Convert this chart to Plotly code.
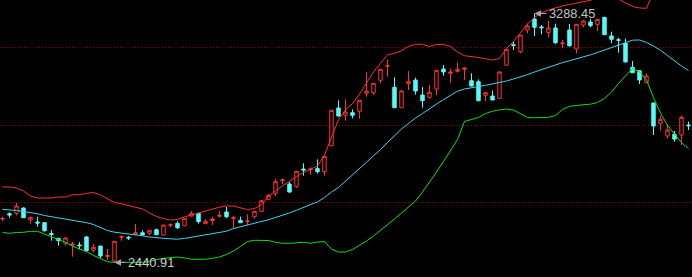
import plotly.graph_objects as go

# ---- data (index = trading day) ----
days = list(range(99))

opens = [2589.0, 2607.0, 2608.4, 2626.4, 2585.6, 2578.8, 2576.4, 2539.6, 2523.3, 2506.3,
         2500.5, 2500.5, 2527.7, 2482.5, 2497.1, 2461.4, 2446.0, 2527.0, 2526.7, 2536.9,
         2542.3, 2540.3, 2552.5, 2534.5, 2567.6, 2574.4, 2566.2, 2599.2, 2608.4, 2573.0,
         2583.9, 2598.2, 2612.8, 2590.0, 2584.6, 2579.8, 2596.8, 2615.2, 2656.0, 2676.5,
         2719.3, 2708.1, 2698.9, 2759.2, 2756.8, 2760.5, 2750.0, 2838.5, 2966.8, 2942.0,
         2950.8, 2955.6, 3016.9, 3018.9, 3061.1, 3108.8, 3037.3, 2967.8, 3049.5, 3062.1,
         3011.1, 3003.2, 3031.5, 3099.5, 3084.9, 3091.7, 3098.5, 3059.7, 3056.3, 3010.0,
         3007.6, 2999.8, 3112.2, 3182.3, 3158.4, 3232.3, 3269.7, 3242.5, 3223.1, 3239.1,
         3185.7, 3232.3, 3167.6, 3249.3, 3259.5, 3251.7, 3275.5, 3211.9, 3199.3, 3187.0,
         3105.3, 3093.7, 3052.9, 2983.8, 2914.7, 2871.5, 2877.3, 2874.9, 2908.9]
highs = [2597.5, 2611.8, 2644.4, 2628.1, 2596.4, 2596.8, 2578.8, 2551.5, 2524.3, 2528.7,
         2510.7, 2510.7, 2531.1, 2503.9, 2497.1, 2486.9, 2514.1, 2533.5, 2531.1, 2572.0,
         2550.5, 2551.5, 2556.3, 2569.0, 2574.4, 2581.2, 2592.4, 2616.2, 2609.4, 2589.0,
         2596.4, 2615.2, 2629.8, 2599.2, 2596.8, 2605.0, 2615.6, 2653.6, 2674.1, 2725.1,
         2727.5, 2714.9, 2752.4, 2778.6, 2765.0, 2792.2, 2803.4, 2960.0, 2993.0, 2996.4,
         2962.4, 2993.5, 3088.3, 3051.9, 3099.5, 3131.2, 3071.3, 3028.1, 3092.7, 3069.9,
         3038.3, 3045.1, 3095.6, 3113.2, 3100.6, 3122.3, 3105.3, 3084.9, 3064.5, 3019.4,
         3025.7, 3091.7, 3167.6, 3192.5, 3215.8, 3255.1, 3288.45, 3249.3, 3263.9, 3253.7,
         3198.3, 3252.7, 3252.7, 3266.3, 3269.7, 3269.7, 3276.0, 3226.5, 3206.1, 3202.7,
         3126.8, 3094.2, 3084.9, 2984.3, 2940.6, 2911.3, 2888.5, 2940.6, 2920.2]
lows = [2582.2, 2593.4, 2601.6, 2592.4, 2573.0, 2562.8, 2545.7, 2515.1, 2498.1, 2498.1,
        2460.7, 2485.9, 2477.7, 2475.7, 2456.3, 2449.4, 2440.91, 2515.1, 2517.5, 2536.0,
        2533.5, 2533.5, 2534.5, 2534.0, 2560.8, 2554.9, 2565.2, 2596.8, 2573.0, 2572.5,
        2568.6, 2593.4, 2591.4, 2557.4, 2576.0, 2568.6, 2590.0, 2612.8, 2653.6, 2667.3,
        2707.1, 2678.5, 2695.5, 2736.4, 2739.8, 2743.2, 2736.4, 2837.5, 2937.2, 2923.5,
        2931.8, 2930.4, 3005.3, 3011.1, 3050.9, 3073.3, 2967.0, 2966.8, 3028.1, 3012.1,
        2967.8, 2998.4, 3010.0, 3076.7, 3052.9, 3086.9, 3062.1, 3041.2, 2991.0, 2989.6,
        2993.5, 2999.3, 3111.7, 3164.2, 3152.9, 3221.1, 3211.9, 3217.6, 3207.4, 3184.6,
        3170.0, 3175.4, 3152.9, 3241.5, 3241.5, 3228.9, 3216.0, 3187.0, 3155.0, 3123.0,
        3086.5, 3048.5, 3052.4, 2874.9, 2889.5, 2863.6, 2852.1, 2840.8, 2891.9]
closes = [2590.7, 2602.6, 2633.2, 2593.4, 2594.8, 2575.4, 2549.1, 2536.2, 2515.1, 2524.3,
          2503.9, 2498.1, 2481.1, 2492.7, 2463.1, 2464.8, 2513.1, 2529.4, 2524.3, 2542.3,
          2534.5, 2550.5, 2535.5, 2568.6, 2569.6, 2559.4, 2591.4, 2608.4, 2579.8, 2581.2,
          2589.0, 2601.6, 2596.8, 2593.4, 2576.4, 2582.2, 2615.2, 2651.2, 2669.7, 2715.9,
          2721.7, 2680.9, 2751.4, 2755.8, 2759.2, 2750.0, 2802.4, 2959.0, 2939.6, 2953.2,
          2942.0, 2993.0, 3024.7, 3050.9, 3098.5, 3110.8, 2967.8, 3024.7, 3057.7, 3024.7,
          2991.6, 3020.3, 3095.1, 3089.3, 3089.3, 3098.5, 3102.9, 3041.7, 2991.6, 3018.9,
          2994.0, 3089.3, 3166.6, 3179.6, 3215.3, 3245.9, 3241.5, 3240.1, 3239.1, 3189.1,
          3188.0, 3178.8, 3251.7, 3262.9, 3246.9, 3268.7, 3216.3, 3200.6, 3197.2, 3123.4,
          3086.9, 3062.1, 3075.7, 2905.5, 2928.3, 2891.9, 2861.3, 2935.1, 2906.5]

boll_upper = [2697.9, 2697.9, 2694.5, 2684.3, 2667.3, 2660.4, 2660.4, 2660.4, 2663.8, 2663.8,
              2671.7, 2671.7, 2676.5, 2679.2, 2670.7, 2658.7, 2645.1, 2641.0, 2634.9, 2629.8,
              2623.0, 2609.4, 2597.5, 2590.0, 2585.6, 2587.3, 2596.4, 2602.6, 2610.1, 2617.2,
              2623.0, 2629.1, 2633.2, 2633.2, 2627.1, 2621.0, 2624.7, 2638.3, 2665.6, 2685.3,
              2701.3, 2718.3, 2733.6, 2747.3, 2759.2, 2769.4, 2806.8, 2868.1, 2926.9, 2961.0,
              2981.4, 3014.5, 3053.6, 3089.3, 3118.9, 3147.9, 3152.6, 3161.8, 3176.8, 3183.6,
              3183.6, 3176.1, 3182.9, 3183.6, 3176.1, 3157.4, 3144.8, 3142.8, 3138.7, 3134.6,
              3130.2, 3135.3, 3169.3, 3193.1, 3222.1, 3252.7, 3274.8, 3291.2, 3300.4, 3308.2,
              3314.0, 3319.1, 3323.2, 3327.6, 3333.4, 3341.2, 3344.6, 3344.6, 3337.8, 3324.2,
              3312.3, 3307.2, 3306.2, 3361.6, 3382.1, 3382.1, 3382.1, 3375.2, 3361.6]
boll_mid = [2622.0, 2621.0, 2617.9, 2614.5, 2611.1, 2606.7, 2600.9, 2596.8, 2594.1, 2590.0,
            2585.9, 2581.2, 2576.4, 2570.3, 2560.1, 2549.8, 2544.0, 2541.3, 2536.5, 2534.5,
            2531.8, 2527.7, 2524.3, 2523.3, 2521.6, 2520.2, 2522.9, 2526.7, 2530.7, 2534.8,
            2538.9, 2543.0, 2547.4, 2556.6, 2562.4, 2567.9, 2573.7, 2579.8, 2586.6, 2594.1,
            2600.9, 2609.8, 2618.9, 2627.8, 2636.6, 2647.5, 2661.8, 2680.9, 2696.2, 2717.3,
            2738.7, 2759.9, 2782.0, 2803.4, 2825.5, 2849.4, 2873.2, 2895.3, 2914.0, 2932.7,
            2948.1, 2965.1, 2980.4, 2995.4, 3009.4, 3024.0, 3031.5, 3036.6, 3040.0, 3044.1,
            3048.5, 3052.6, 3058.7, 3065.5, 3072.3, 3080.5, 3089.3, 3097.8, 3105.7, 3113.9,
            3121.3, 3127.5, 3133.6, 3140.4, 3147.9, 3155.7, 3164.2, 3174.4, 3182.9, 3190.4,
            3197.6, 3198.3, 3189.7, 3177.8, 3163.2, 3145.5, 3126.8, 3109.8, 3094.4]
boll_lower = [2543.0, 2540.3, 2543.0, 2543.7, 2547.1, 2547.1, 2537.9, 2528.4, 2519.2, 2509.7,
              2496.4, 2487.6, 2478.1, 2465.1, 2455.3, 2443.3, 2441.6, 2441.6, 2441.6, 2441.6,
              2441.6, 2444.3, 2451.1, 2455.2, 2458.6, 2459.7, 2456.3, 2451.8, 2451.8, 2451.8,
              2455.2, 2459.7, 2468.2, 2480.1, 2495.4, 2512.4, 2516.5, 2516.5, 2515.8, 2509.7,
              2506.3, 2506.3, 2507.3, 2509.7, 2506.3, 2510.7, 2512.4, 2486.9, 2476.7, 2476.7,
              2485.2, 2498.8, 2514.1, 2531.1, 2549.8, 2568.6, 2589.0, 2609.4, 2629.8, 2650.2,
              2680.9, 2713.2, 2748.9, 2784.7, 2820.4, 2859.6, 2920.8, 2927.6, 2934.4, 2948.1,
              2955.9, 2960.7, 2963.4, 2960.0, 2948.1, 2934.4, 2933.4, 2935.1, 2935.1, 2941.3,
              2961.7, 2972.6, 2976.0, 2978.0, 2979.7, 2985.5, 2999.1, 3021.3, 3050.2, 3075.7,
              3101.2, 3090.0, 3062.1, 3002.5, 2949.8, 2907.2, 2876.6, 2849.4, 2829.0]

grid_levels = [2645.8, 2908.9, 3173.4]
high_day, high_price, high_label = 76, 3288.45, "3288.45"
low_day, low_price, low_label = 16, 2440.91, "2440.91"

# ---- figure ----
fig = go.Figure()

fig.add_trace(go.Candlestick(
    x=days, open=opens, high=highs, low=lows, close=closes,
    increasing=dict(line=dict(color="#ff3434", width=1), fillcolor="rgba(0,0,0,0)"),
    decreasing=dict(line=dict(color="#54fcfc", width=1), fillcolor="#54fcfc"),
    whiskerwidth=0, showlegend=False, hoverinfo="skip",
))

for vals, col in [(boll_upper, "#ff3030"), (boll_mid, "#40d4f0"), (boll_lower, "#10e010")]:
    fig.add_trace(go.Scatter(x=days, y=vals, mode="lines",
                             line=dict(color=col, width=1),
                             showlegend=False, hoverinfo="skip"))

label_font = "Liberation Sans, Arial, sans-serif"
fig.add_annotation(x=high_day, y=high_price, text=high_label, showarrow=True,
                   ax=12, ay=0, xanchor="left", yanchor="middle",
                   arrowhead=2, arrowsize=1.3, arrowwidth=1, arrowcolor="#a8a8a8",
                   font=dict(family=label_font, size=12.8, color="#c4c4c4"))
fig.add_annotation(x=low_day, y=low_price, text=low_label, showarrow=True,
                   ax=11, ay=0, xanchor="left", yanchor="middle",
                   arrowhead=2, arrowsize=1.3, arrowwidth=1, arrowcolor="#a8a8a8",
                   font=dict(family=label_font, size=12.8, color="#d0d0d0"))

fig.update_layout(
    width=692, height=277,
    margin=dict(l=0, r=0, t=0, b=0),
    paper_bgcolor="#000000", plot_bgcolor="#000000",
    showlegend=False,
    xaxis=dict(range=[-0.357, 98.5], showgrid=False, zeroline=False, showticklabels=False,
               showline=False, rangeslider=dict(visible=False), fixedrange=True),
    yaxis=dict(range=[2391.6, 3334.4], tickvals=grid_levels, showticklabels=False,
               showgrid=True, gridcolor="#900000", griddash="1px,2px", gridwidth=1,
               zeroline=False, showline=False, fixedrange=True),
)

fig.write_html("out.html")
